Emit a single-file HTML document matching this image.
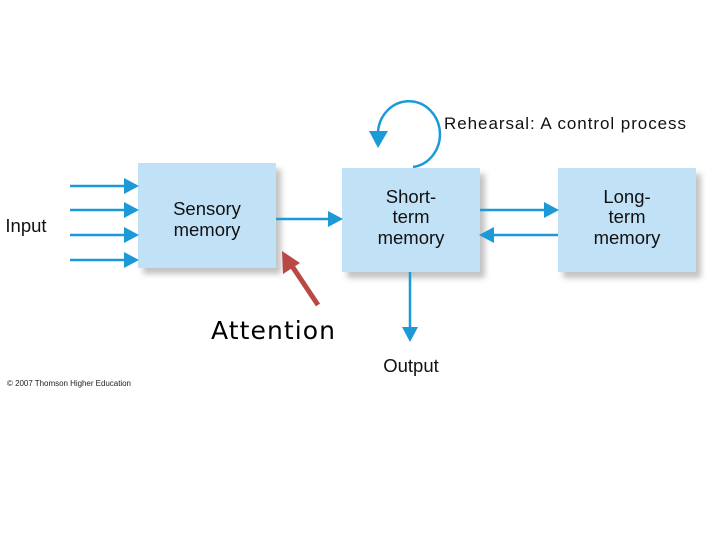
<!DOCTYPE html>
<html><head><style>body{margin:0;background:#fff}svg{display:block}</style></head><body>
<svg width="720" height="540" viewBox="0 0 720 540" xmlns="http://www.w3.org/2000/svg" font-family="Liberation Sans, Arial, sans-serif">
<defs>
<filter id="sh" x="-10%" y="-10%" width="130%" height="130%"><feGaussianBlur stdDeviation="3"/></filter>
</defs>
<g fill="#9a9a9a" opacity="0.6" filter="url(#sh)">
<rect x="143" y="169" width="138" height="105"/>
<rect x="347" y="174" width="138" height="104"/>
<rect x="563" y="174" width="138" height="104"/>
</g>
<g fill="#c0e1f6">
<rect x="138" y="163" width="138" height="105"/>
<rect x="342" y="168" width="138" height="104"/>
<rect x="558" y="168" width="138" height="104"/>
</g>
<g stroke="#1c9ad8" stroke-width="2.5" fill="none">
<line x1="70" y1="186" x2="126" y2="186"/>
<line x1="70" y1="210" x2="126" y2="210"/>
<line x1="70" y1="235" x2="126" y2="235"/>
<line x1="70" y1="260" x2="126" y2="260"/>
<line x1="276" y1="219" x2="330" y2="219"/>
<line x1="480" y1="210" x2="546" y2="210"/>
<line x1="492" y1="235" x2="558" y2="235"/>
<line x1="410" y1="272" x2="410" y2="330"/>
<path d="M413 167 A31 33 0 1 0 378 132"/>
</g>
<g fill="#1c9ad8">
<polygon points="124,178 139,186 124,194"/>
<polygon points="124,202 139,210 124,218"/>
<polygon points="124,227 139,235 124,243"/>
<polygon points="124,252 139,260 124,268"/>
<polygon points="328,211 343,219 328,227"/>
<polygon points="544,202 559,210 544,218"/>
<polygon points="494,227 479,235 494,243"/>
<polygon points="402,327 410,342 418,327"/>
<polygon points="369,131 388,131 378,148"/>
</g>
<line x1="318" y1="305" x2="290" y2="263" stroke="#b84a45" stroke-width="5"/>
<polygon points="282,251 283,274 300,263" fill="#b84a45"/>
<g fill="#111" font-size="18.5" text-anchor="middle">
<text x="26" y="232">Input</text>
<text x="207" y="215">Sensory</text>
<text x="207" y="236">memory</text>
<text x="411" y="203">Short-</text>
<text x="411" y="223">term</text>
<text x="411" y="244">memory</text>
<text x="627" y="203">Long-</text>
<text x="627" y="223">term</text>
<text x="627" y="244">memory</text>
<text x="411" y="372">Output</text>
</g>
<text x="444" y="129" font-size="17" fill="#111" textLength="242">Rehearsal: A control process</text>
<text x="211" y="339" font-size="25" fill="#000" textLength="124" font-family="DejaVu Sans, sans-serif">Attention</text>
<text x="7" y="386" font-size="8" fill="#222" textLength="124">© 2007 Thomson Higher Education</text>
</svg>
</body></html>
